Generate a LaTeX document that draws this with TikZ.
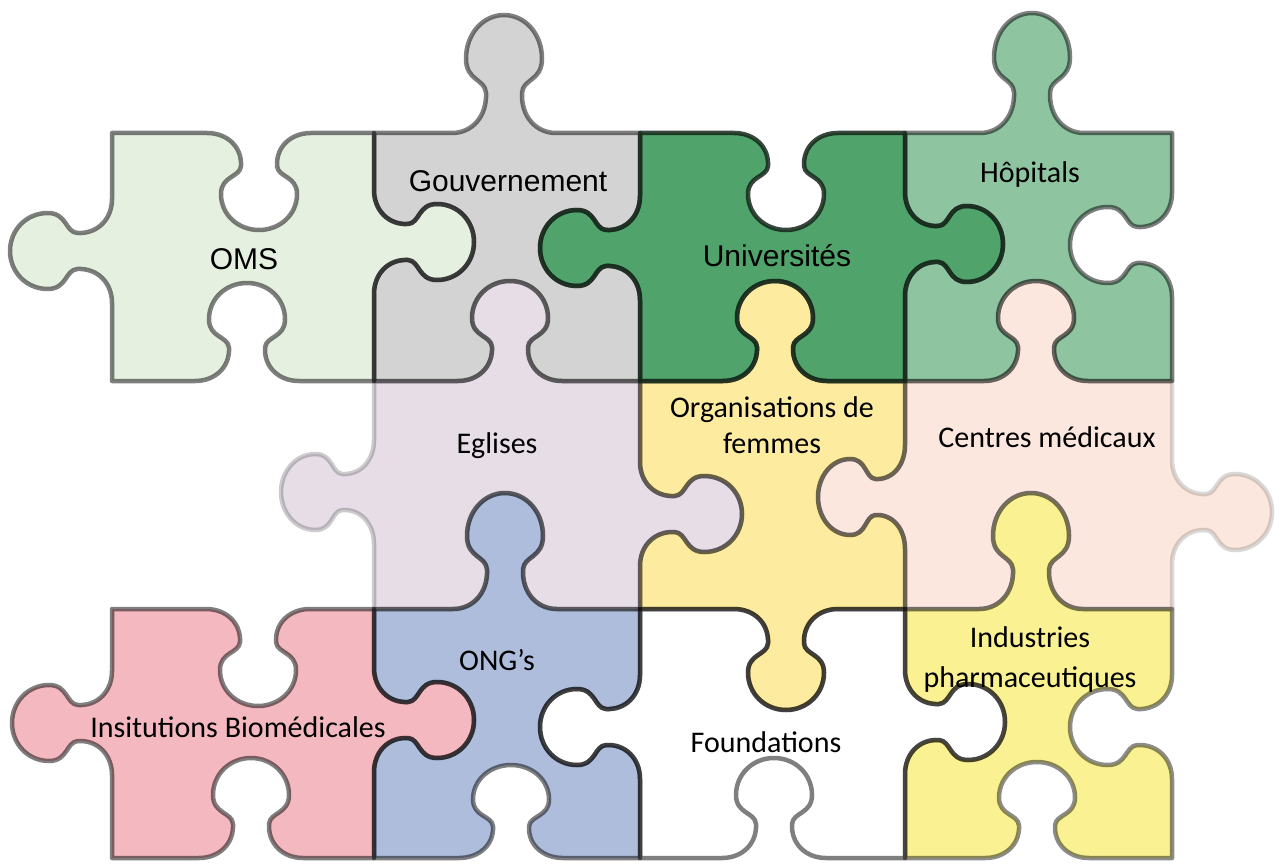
\documentclass[tikz,border=0pt]{standalone}
\usepackage{fontspec}
\setmainfont{Carlito}
\newfontfamily\arialfont{Liberation Sans}

\definecolor{omsgreen}{RGB}{229,240,225}
\definecolor{govgray}{RGB}{211,211,211}
\definecolor{unigreen}{RGB}{79,163,107}
\definecolor{unidark}{RGB}{22,40,28}
\definecolor{hopgreen}{RGB}{142,196,160}
\definecolor{eglmauve}{RGB}{230,221,231}
\definecolor{orgyellow}{RGB}{253,235,160}
\definecolor{cenpink}{RGB}{251,231,222}
\definecolor{insrose}{RGB}{244,185,192}
\definecolor{ongblue}{RGB}{174,189,219}
\definecolor{indyellow}{RGB}{249,241,146}

% one knob on an edge: centre (#1,#2), direction (#3,#4), depth #5 (+ out, - in)
\newcommand\knob[5]{%
  -- ({#1-52*(#3)},{#2-52*(#4)})
  .. controls ({#1-32*(#3)},{#2-32*(#4)}) and ({#1-17*(#3)+14*(#5)*(#4)},{#2-17*(#4)-14*(#5)*(#3)})
  .. ({#1-18*(#3)+34*(#5)*(#4)},{#2-18*(#4)-34*(#5)*(#3)})
  .. controls ({#1-19*(#3)+46*(#5)*(#4)},{#2-19*(#4)-46*(#5)*(#3)}) and ({#1-38*(#3)+44*(#5)*(#4)},{#2-38*(#4)-44*(#5)*(#3)})
  .. ({#1-38*(#3)+63*(#5)*(#4)},{#2-38*(#4)-63*(#5)*(#3)})
  .. controls ({#1-38*(#3)+84*(#5)*(#4)},{#2-38*(#4)-84*(#5)*(#3)}) and ({#1-21*(#3)+100*(#5)*(#4)},{#2-21*(#4)-100*(#5)*(#3)})
  .. ({#1+100*(#5)*(#4)},{#2-100*(#5)*(#3)})
  .. controls ({#1+21*(#3)+100*(#5)*(#4)},{#2+21*(#4)-100*(#5)*(#3)}) and ({#1+38*(#3)+84*(#5)*(#4)},{#2+38*(#4)-84*(#5)*(#3)})
  .. ({#1+38*(#3)+63*(#5)*(#4)},{#2+38*(#4)-63*(#5)*(#3)})
  .. controls ({#1+38*(#3)+44*(#5)*(#4)},{#2+38*(#4)-44*(#5)*(#3)}) and ({#1+19*(#3)+46*(#5)*(#4)},{#2+19*(#4)-46*(#5)*(#3)})
  .. ({#1+18*(#3)+34*(#5)*(#4)},{#2+18*(#4)-34*(#5)*(#3)})
  .. controls ({#1+17*(#3)+14*(#5)*(#4)},{#2+17*(#4)-14*(#5)*(#3)}) and ({#1+32*(#3)},{#2+32*(#4)})
  .. ({#1+52*(#3)},{#2+52*(#4)})}

% the pieces, clockwise from the top left corner
\newcommand\pzOMS{(112,133) \knob{259}{133}{1}{0}{-0.97} -- (374,133) \knob{374}{242}{0}{1}{1} -- (374,381) \knob{247}{381}{-1}{0}{-0.98} -- (112,381) \knob{112}{251}{0}{-1}{1.02} -- cycle}
\newcommand\pzGov{(374,133) \knob{504}{133}{1}{0}{1.18} -- (640,133) \knob{640}{248}{0}{1}{-1} -- (640,381) \knob{510}{381}{-1}{0}{-1} -- (374,381) \knob{374}{242}{0}{-1}{-1} -- cycle}
\newcommand\pzUni{(640,133) \knob{786}{133}{1}{0}{-0.97} -- (905,133) \knob{905}{244}{0}{1}{0.98} -- (905,381) \knob{775}{381}{-1}{0}{-1} -- (640,381) \knob{640}{248}{0}{-1}{1} -- cycle}
\newcommand\pzHop{(905,133) \knob{1032}{133}{1}{0}{1.2} -- (1172,133) \knob{1172}{245}{0}{1}{-1.02} -- (1172,381) \knob{1036}{381}{-1}{0}{-1} -- (905,381) \knob{905}{244}{0}{-1}{-0.98} -- cycle}
\newcommand\pzEgl{(374,381) \knob{510}{381}{1}{0}{1} -- (640,381) \knob{640}{514}{0}{1}{1.02} -- (640,609) \knob{505}{609}{-1}{0}{-1.16} -- (374,609) \knob{374}{492}{0}{-1}{0.93} -- cycle}
\newcommand\pzOrg{(640,381) \knob{775}{381}{1}{0}{1} -- (905,381) \knob{905}{497}{0}{1}{-0.87} -- (905,609) \knob{786}{609}{-1}{0}{1.01} -- (640,609) \knob{640}{514}{0}{-1}{-1.02} -- cycle}
\newcommand\pzCen{(905,381) \knob{1036}{381}{1}{0}{1} -- (1172,381) \knob{1172}{512}{0}{1}{1} -- (1172,609) \knob{1031}{609}{-1}{0}{-1.16} -- (905,609) \knob{905}{497}{0}{-1}{0.87} -- cycle}
\newcommand\pzIns{(112,609) \knob{258}{609}{1}{0}{-0.97} -- (374,609) \knob{374}{720}{0}{1}{1} -- (374,858) \knob{251}{858}{-1}{0}{-1} -- (112,858) \knob{112}{723}{0}{-1}{1} -- cycle}
\newcommand\pzONG{(374,609) \knob{505}{609}{1}{0}{1.16} -- (640,609) \knob{640}{727}{0}{1}{-1} -- (640,858) \knob{511}{858}{-1}{0}{-0.93} -- (374,858) \knob{374}{720}{0}{-1}{-1} -- cycle}
\newcommand\pzFou{(640,609) \knob{786}{609}{1}{0}{-1.01} -- (905,609) \knob{905}{722}{0}{1}{1} -- (905,858) \knob{774}{858}{-1}{0}{-1} -- (640,858) \knob{640}{727}{0}{-1}{1} -- cycle}
\newcommand\pzInd{(905,609) \knob{1031}{609}{1}{0}{1.16} -- (1172,609) \knob{1172}{727}{0}{1}{-1.02} -- (1172,858) \knob{1037}{858}{-1}{0}{-0.96} -- (905,858) \knob{905}{722}{0}{-1}{-1} -- cycle}

\begin{document}
\begin{tikzpicture}[x=1pt,y=-1pt,
  edge/.style={line width=4.5pt, line join=round, draw=black, draw opacity=.5},
  lbl/.style={font=\fontsize{30}{36}\selectfont, inner sep=0pt},
  lblA/.style={font=\arialfont\fontsize{30}{36}\selectfont, inner sep=0pt}]
\useasboundingbox (0,0) rectangle (1281,866);

% fills first
\fill[omsgreen] \pzOMS;
\fill[govgray] \pzGov;
\fill[unigreen] \pzUni;
\fill[hopgreen] \pzHop;
\fill[eglmauve] \pzEgl;
\fill[orgyellow] \pzOrg;
\fill[cenpink] \pzCen;
\fill[insrose] \pzIns;
\fill[ongblue] \pzONG;
\fill[white] \pzFou;
\fill[indyellow] \pzInd;

% then the outlines, so shared edges add up
\draw[edge] \pzOMS;
\draw[edge] \pzGov;
\draw[edge] \pzHop;
\draw[edge, draw opacity=.2] \pzEgl;
\draw[edge] \pzOrg;
\draw[edge, draw opacity=.15] \pzCen;
\draw[edge] \pzIns;
\draw[edge] \pzONG;
\draw[edge] \pzFou;
\draw[edge, draw opacity=.45] \pzInd;
\draw[edge, draw=unidark, draw opacity=.85] \pzUni;

% labels
\node[lblA, anchor=base] (oms) at (244,270) {OMS};
\node[lblA, anchor=base] (gov) at (508,192) {Gouvernement};
\node[lblA, anchor=base] (uni) at (777,267) {Universités};
\node[lbl, anchor=base] (hop) at (1030,183) {Hôpitals};
\node[lbl, anchor=base] (egl) at (497,453) {Eglises};
\node[lbl, align=center] (org) at (772,425) {Organisations de\\femmes};
\node[lbl, anchor=base] (cen) at (1047,447) {Centres médicaux};
\node[lbl, anchor=base] (ins) at (238,737) {Insitutions Biomédicales};
\node[lbl, anchor=base] (ong) at (497,670) {ONG’s};
\node[lbl, anchor=base] (fou) at (766,752) {Foundations};
\node[lbl, align=center, font=\fontsize{30}{40}\selectfont] (ind) at (1030,659) {Industries\\pharmaceutiques};
\end{tikzpicture}
\end{document}
